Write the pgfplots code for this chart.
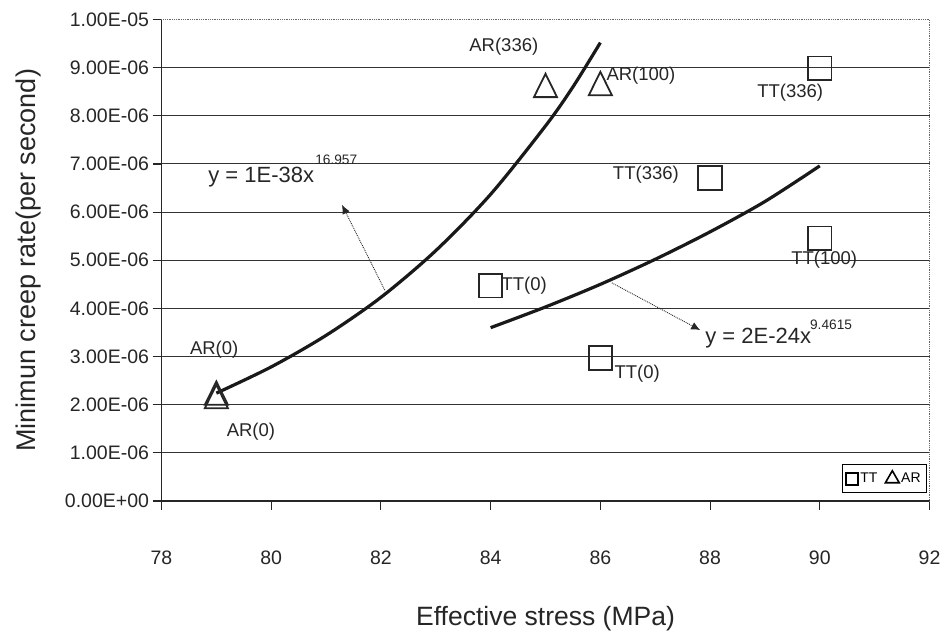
\documentclass[border=0pt]{standalone}
\usepackage{fontspec}
\setmainfont{Liberation Sans}
\usepackage{pgfplots}
\pgfplotsset{compat=1.18}
\usetikzlibrary{arrows.meta}
\begin{document}
\begin{tikzpicture}
\begin{axis}[
  scale only axis, width=768pt, height=481.5pt,
  xmin=78, xmax=92, ymin=0, ymax=1e-5,
  axis x line*=bottom, axis y line*=left,
  axis line style={line width=1.1pt, black!85},
  xtick={78,80,82,84,86,88,90,92},
  xticklabels={78,80,82,84,86,88,90,92},
  ytick={0,1e-6,2e-6,3e-6,4e-6,5e-6,6e-6,7e-6,8e-6,9e-6},
  yticklabels={0.00E+00,1.00E-06,2.00E-06,3.00E-06,4.00E-06,5.00E-06,6.00E-06,7.00E-06,8.00E-06,9.00E-06},
  extra y ticks={1e-5}, extra y tick labels={1.00E-05},
  extra y tick style={grid=none},
  scaled y ticks=false,
  ymajorgrids, grid style={line width=1pt, black!80},
  tick align=outside, major tick length=9pt,
  tick style={line width=1.1pt, black!85},
  ticklabel style={font=\fontsize{19.5}{23}\selectfont, text=black!85},
  xticklabel style={anchor=base, yshift=-54pt},
  yticklabel style={anchor=east},
  xlabel={Effective stress (MPa)},
  ylabel={Minimun creep rate(per second)},
  xlabel style={font=\fontsize{26.5}{31}\selectfont, text=black!85, at={(axis description cs:0.5,0)}, anchor=base, yshift=-124pt},
  ylabel style={font=\fontsize{27}{32}\selectfont, text=black!85, at={(axis description cs:-0.1647,0.5)}, anchor=base},
  legend columns=2,
  legend style={at={(rel axis cs:0.997,0.017)}, anchor=south east, draw=black, line width=1pt,
    font=\fontsize{14}{16}\selectfont, inner xsep=4pt, inner ysep=6pt,
    /tikz/every even column/.append style={column sep=6pt}},
  clip=false,
]
\coordinate (bl) at (rel axis cs:0,0);
\draw[densely dotted, black!60, line width=0.8pt] (rel axis cs:0,1) -- (rel axis cs:1,1) -- (rel axis cs:1,0);

\addlegendimage{only marks, mark=square, mark size=6pt, line width=1.6pt, black}
\addlegendentry{TT}
\addlegendimage{only marks, mark=triangle, mark size=8pt, line width=1.6pt, black}
\addlegendentry{AR}

% fitted curves
\addplot[black!90, line width=3.2pt, smooth, forget plot] coordinates {
 (79,2.24e-6) (80,2.785e-6) (81,3.44e-6) (82,4.23e-6) (83,5.20e-6) (84,6.37e-6) (85,7.79e-6) (85.5,8.60e-6) (86,9.52e-6)};
\addplot[black!90, line width=3.2pt, smooth, forget plot] coordinates {
 (84,3.60e-6) (85,4.03e-6) (86,4.50e-6) (87,5.02e-6) (88,5.59e-6) (89,6.22e-6) (90,6.96e-6)};

% TT points
\addplot[only marks, mark=square, mark size=11.7pt, line width=1.8pt, black!85, forget plot] coordinates {
 (84,4.47e-6) (86,2.97e-6) (88,6.71e-6) (90,5.46e-6) (90,8.99e-6)};
% AR points
\addplot[only marks, mark=triangle, mark size=13.3pt, line width=1.8pt, black!85, forget plot,
  mark options={yscale=1.17}] coordinates {
 (79,2.09e-6) (79,2.16e-6) (85,8.55e-6) (86,8.59e-6)};

% point labels
\begin{scope}[every node/.style={font=\fontsize{18.5}{22}\selectfont, text=black!85, inner sep=0pt}]
\node at (axis cs:84.24,9.43e-6) {AR(336)};
\node at (axis cs:86.74,8.83e-6) {AR(100)};
\node at (axis cs:89.46,8.47e-6) {TT(336)};
\node at (axis cs:86.83,6.77e-6) {TT(336)};
\node at (axis cs:90.08,5.01e-6) {TT(100)};
\node at (axis cs:84.61,4.47e-6) {TT(0)};
\node at (axis cs:86.67,2.64e-6) {TT(0)};
\node at (axis cs:78.96,3.14e-6) {AR(0)};
\node at (axis cs:79.63,1.43e-6) {AR(0)};
\end{scope}
\begin{scope}[every node/.style={font=\fontsize{22}{26}\selectfont, text=black!85, inner sep=0pt}]
\node[anchor=west] at (axis cs:78.85,6.73e-6) {y = 1E-38x};
\node[anchor=west] at (axis cs:87.91,3.385e-6) {y = 2E-24x};
\end{scope}
\node[anchor=west, inner sep=0pt, font=\fontsize{13.7}{16}\selectfont, text=black!85] at (axis cs:80.80,7.08e-6) {16.957};
\node[anchor=west, inner sep=0pt, font=\fontsize{13.7}{16}\selectfont, text=black!85] at (axis cs:89.82,3.655e-6) {9.4615};

% dotted pointers
\draw[densely dotted, line width=0.9pt, black!85, -{Latex[length=9pt,width=8pt]}] (axis cs:82.07,4.38e-6) -- (axis cs:81.29,6.15e-6);
\draw[densely dotted, line width=0.9pt, black!85, -{Latex[length=9pt,width=8pt]}] (axis cs:86.21,4.53e-6) -- (axis cs:87.82,3.55e-6);
\end{axis}
\pgfresetboundingbox
\path[use as bounding box] ([shift={(-161.5pt,-132pt)}]bl) rectangle ++(942pt,633pt);
\end{tikzpicture}
\end{document}
